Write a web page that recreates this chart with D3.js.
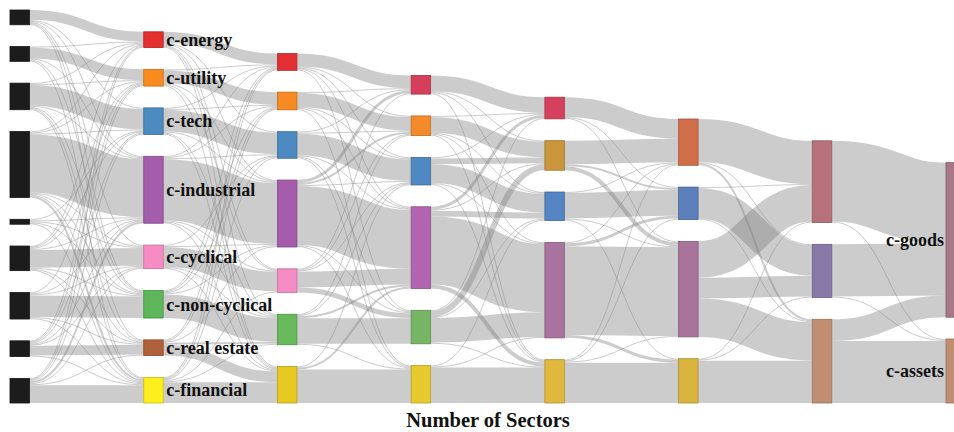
<!DOCTYPE html>
<html>
<head>
  <meta charset="utf-8">
  <title>Number of Sectors</title>
  <style>
    body { margin: 0; background: #fff; }
    svg { display: block; font-family: "Liberation Serif", "Times New Roman", serif; }
  </style>
</head>
<body>

<svg width="954" height="432" viewBox="0 0 954 432"></svg>

<script src="https://d3js.org/d3.v7.min.js"></script>
<script>
// one column per clustering level, 9 sectors down to 2
const levels = [9, 8, 7, 6, 5, 4, 3, 2];

const labels = [
  ['', '', '', '', '', '', '', '', ''],
  ['c-energy', 'c-utility', 'c-tech', 'c-industrial', 'c-cyclical', 'c-non-cyclical', 'c-real estate', 'c-financial'],
  ['', '', '', '', '', '', ''],
  ['', '', '', '', '', ''],
  ['', '', '', '', ''],
  ['', '', '', ''],
  ['', '', ''],
  ['c-goods', 'c-assets']
];

const colors = [
  ['#1c1c1c', '#1c1c1c', '#1c1c1c', '#1c1c1c', '#1c1c1c', '#1c1c1c', '#1c1c1c', '#1c1c1c', '#1c1c1c'],
  ['#e3302f', '#f98b1e', '#4b8bbf', '#a35dab', '#f78cc5', '#5db75a', '#b0603a', '#fcef1d'],
  ['#e33033', '#f78a22', '#4b89c0', '#a45cab', '#f68cc4', '#68b95b', '#e8c921'],
  ['#d63f59', '#f58a2a', '#4f88c2', '#b265ae', '#76b563', '#e6c92c'],
  ['#d4405e', '#c9963c', '#5584c4', '#a8739e', '#e0b83d'],
  ['#cf6e48', '#5d7fbb', '#a8749c', '#d9b43f'],
  ['#b6717a', '#8878a8', '#c08f72'],
  ['#a87888', '#c08e70']
];

// flows between neighbouring levels: [from, to, count]
const flows0 = [
  [0, 0, 10], [0, 2, 1], [0, 3, 1], [0, 5, 1], [0, 4, 1], [0, 6, 1],
  [1, 1, 11], [1, 0, 1], [1, 3, 1], [1, 5, 1], [1, 7, 1],
  [2, 2, 21], [2, 0, 1], [2, 1, 1], [2, 3, 1], [2, 5, 1], [2, 6, 1], [2, 7, 1],
  [3, 3, 59], [3, 0, 1], [3, 1, 1], [3, 2, 1], [3, 4, 1], [3, 5, 1], [3, 6, 1], [3, 7, 2],
  [4, 2, 1], [4, 3, 1], [4, 4, 1], [4, 5, 1], [4, 7, 1],
  [5, 4, 18], [5, 1, 1], [5, 2, 1], [5, 3, 1], [5, 5, 1], [5, 7, 1], [5, 0, 1], [5, 6, 1],
  [6, 5, 22], [6, 1, 1], [6, 3, 1], [6, 4, 1], [6, 6, 1], [6, 7, 1],
  [7, 6, 10], [7, 3, 1], [7, 2, 1], [7, 1, 1], [7, 0, 1], [7, 4, 1], [7, 7, 1],
  [8, 7, 18], [8, 0, 1], [8, 1, 1], [8, 3, 2], [8, 4, 1], [8, 2, 1], [8, 6, 1]
];
const flows1 = [
  [0, 0, 11], [0, 2, 1], [0, 3, 1], [0, 4, 1], [0, 5, 1], [0, 6, 1],
  [1, 1, 13], [1, 0, 1], [1, 3, 1], [1, 4, 1], [1, 6, 1],
  [2, 2, 22], [2, 0, 1], [2, 1, 1], [2, 3, 1], [2, 5, 1], [2, 6, 1],
  [3, 3, 62], [3, 0, 1], [3, 1, 1], [3, 2, 1], [3, 4, 1], [3, 5, 1], [3, 6, 1],
  [4, 4, 20], [4, 2, 1], [4, 3, 1], [4, 5, 1], [4, 6, 1],
  [5, 5, 24], [5, 1, 1], [5, 2, 1], [5, 3, 1], [5, 0, 1],
  [6, 6, 11], [6, 3, 1], [6, 5, 2], [6, 1, 1], [6, 0, 1],
  [7, 6, 21], [7, 0, 1], [7, 1, 1], [7, 5, 1], [7, 2, 1], [7, 4, 1]
];
const flows2 = [
  [0, 0, 13], [0, 1, 1], [0, 2, 1], [0, 3, 1], [0, 4, 1],
  [1, 1, 14], [1, 0, 1], [1, 2, 1], [1, 3, 1], [1, 5, 1],
  [2, 2, 22], [2, 0, 1], [2, 1, 1], [2, 3, 1], [2, 4, 1], [2, 5, 1],
  [3, 3, 60], [3, 0, 3], [3, 1, 2], [3, 2, 1], [3, 4, 1], [3, 5, 1],
  [4, 3, 16], [4, 4, 5], [4, 2, 1], [4, 0, 1], [4, 1, 1],
  [5, 4, 26], [5, 1, 1], [5, 2, 1], [5, 3, 2], [5, 5, 1],
  [6, 5, 34], [6, 3, 2], [6, 2, 1]
];
const flows3 = [
  [0, 0, 16], [0, 1, 1], [0, 2, 1], [0, 4, 1],
  [1, 1, 16], [1, 0, 1], [1, 2, 1], [1, 3, 1], [1, 4, 1],
  [2, 1, 6], [2, 2, 19], [2, 0, 1], [2, 3, 1], [2, 4, 1],
  [3, 3, 69], [3, 0, 3], [3, 2, 6], [3, 4, 4], [3, 1, 1],
  [4, 1, 6], [4, 3, 25], [4, 0, 1], [4, 2, 1], [4, 4, 1],
  [5, 4, 36], [5, 3, 1], [5, 2, 1]
];
const flows4 = [
  [0, 0, 20], [0, 1, 1], [0, 2, 1],
  [1, 0, 24], [1, 1, 2], [1, 2, 4],
  [2, 1, 26], [2, 0, 1], [2, 2, 1], [2, 3, 1],
  [3, 2, 90], [3, 3, 3], [3, 1, 3], [3, 0, 1],
  [4, 3, 41], [4, 0, 1], [4, 1, 1], [4, 2, 1]
];
const flows5 = [
  [0, 0, 44], [0, 1, 1], [0, 2, 2],
  [1, 1, 31], [1, 0, 1], [1, 2, 1],
  [2, 0, 37], [2, 1, 21], [2, 2, 39],
  [3, 2, 43], [3, 0, 1], [3, 1, 1]
];
const flows6 = [
  [0, 0, 82], [0, 1, 1],
  [1, 0, 53], [1, 1, 1],
  [2, 0, 22], [2, 1, 63]
];

const title = 'Number of Sectors';

// ---

const svg = d3.select('svg');
const nodeWidth = 19.5;
const nodePad = 21.8;
const yTop = 10;
const yBottom = 403;

const x = d3.scaleLinear()
  .domain([0, levels.length - 1])
  .range([10, 946]);

const nodes = labels.map((col, c) => col.map((name, i) => ({
  col: c, i, name, color: colors[c][i], sourceLinks: [], targetLinks: []
})));

const links = [];
[flows0, flows1, flows2, flows3, flows4, flows5, flows6].forEach((list, c) => {
  list.forEach(([s, t, v]) => {
    const l = { source: nodes[c][s], target: nodes[c + 1][t], value: v };
    l.source.sourceLinks.push(l);
    l.target.targetLinks.push(l);
    links.push(l);
  });
});

nodes.flat().forEach(n => {
  n.value = Math.max(d3.sum(n.sourceLinks, l => l.value), d3.sum(n.targetLinks, l => l.value));
});

// value -> pixels, like d3-sankey's ky
const ky = d3.min(nodes, col => (yBottom - yTop - (col.length - 1) * nodePad) / d3.sum(col, n => n.value));
const h = d3.scaleLinear().domain([0, 1]).range([0, ky]);

// stack every column from the bottom
nodes.forEach(col => {
  let y = yBottom;
  for (let k = col.length - 1; k >= 0; k--) {
    const n = col[k];
    n.y1 = y;
    n.y0 = y - h(n.value);
    n.x0 = x(n.col);
    n.x1 = n.x0 + nodeWidth;
    y = n.y0 - nodePad;
  }
});

// link offsets inside each node
nodes.flat().forEach(n => {
  n.sourceLinks.sort((a, b) => a.target.y0 - b.target.y0);
  n.targetLinks.sort((a, b) => a.source.y0 - b.source.y0);
  let y0 = n.y0;
  let y1 = n.y0;
  n.sourceLinks.forEach(l => {
    l.width = h(l.value);
    l.y0 = y0 + l.width / 2;
    y0 += l.width;
  });
  n.targetLinks.forEach(l => {
    l.y1 = y1 + h(l.value) / 2;
    y1 += h(l.value);
  });
});

// links
svg.append('g')
  .attr('fill', 'none')
  .attr('stroke', '#808080')
  .attr('stroke-opacity', 0.4)
  .selectAll('path').data(links).join('path')
    .attr('d', d3.linkHorizontal()
      .source(d => [d.source.x1, d.y0])
      .target(d => [d.target.x0, d.y1]))
    .attr('stroke-width', d => Math.max(1, d.width));

// nodes
svg.append('g')
  .selectAll('rect').data(nodes.flat()).join('rect')
    .attr('x', d => d.x0)
    .attr('y', d => d.y0)
    .attr('width', d => d.x1 - d.x0)
    .attr('height', d => d.y1 - d.y0)
    .attr('fill', d => d.color)
    .attr('stroke', d => d3.color(d.color).darker(0.7))
    .attr('stroke-width', 0.8);

// labels: right of the first named level, left of the last one
const last = levels.length - 1;
svg.append('g')
  .attr('font-size', '18px')
  .attr('font-weight', 'bold')
  .attr('fill', '#111')
  .selectAll('text').data(nodes.flat().filter(d => d.name)).join('text')
    .attr('x', d => d.col === last ? d.x0 - 2 : d.x1 + 3)
    .attr('y', d => (d.y0 + d.y1) / 2)
    .attr('dy', '0.35em')
    .attr('text-anchor', d => d.col === last ? 'end' : 'start')
    .text(d => d.name);

svg.append('text')
  .attr('x', 488)
  .attr('y', 427)
  .attr('text-anchor', 'middle')
  .attr('font-size', '20.5px')
  .attr('font-weight', 'bold')
  .attr('fill', '#111')
  .text(title);
</script>

</body>
</html>
